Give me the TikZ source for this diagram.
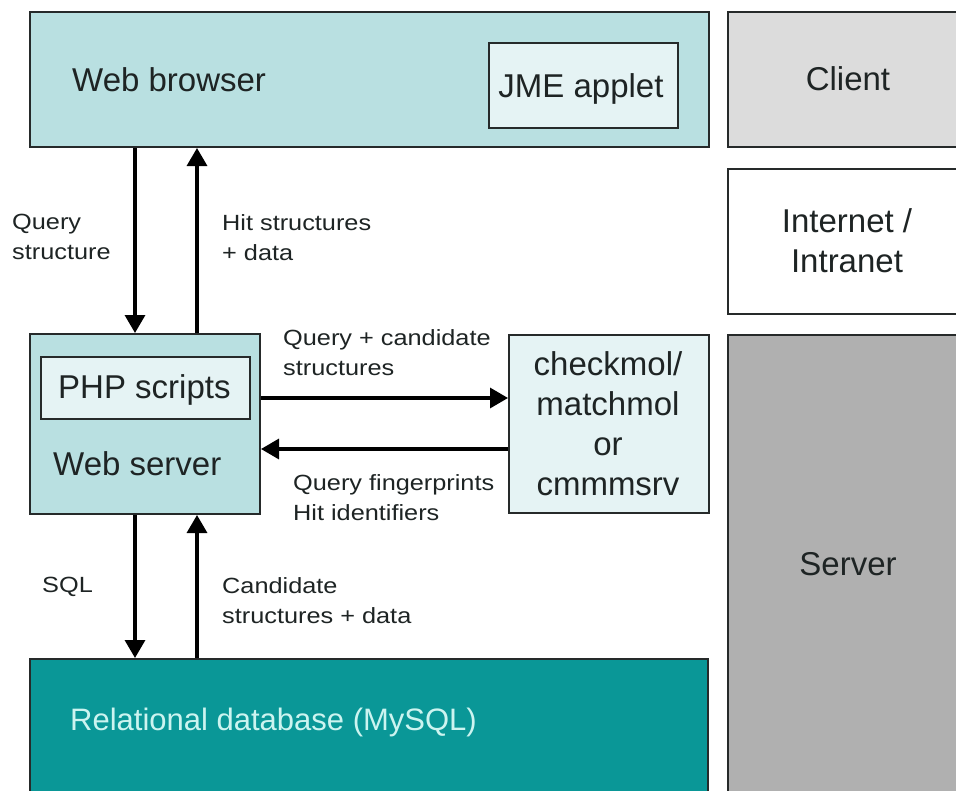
\documentclass[tikz,border=0pt]{standalone}
\usepackage{fontspec}
\setmainfont{Liberation Sans}
\newfontfamily\labfont[FakeStretch=1.15]{Liberation Sans}
\usetikzlibrary{arrows.meta}
\definecolor{wbfill}{HTML}{B9E0E1}
\definecolor{innerfill}{HTML}{E5F3F4}
\definecolor{clientfill}{HTML}{DCDCDC}
\definecolor{serverfill}{HTML}{B0B0B0}
\definecolor{dbfill}{HTML}{0A9797}
\definecolor{dbtext}{HTML}{CCF4F0}
\definecolor{textc}{HTML}{1E2424}
\definecolor{bordc}{HTML}{262A2A}
\begin{document}
\begin{tikzpicture}[x=1pt,y=-1pt,
  box/.style={draw=bordc, line width=2pt, rectangle, inner sep=0pt, anchor=north west},
  big/.style={font=\fontsize{33}{40}\selectfont, text=textc, inner sep=0pt},
  lab/.style={font=\labfont\fontsize{22}{30}\selectfont, text=textc, inner sep=0pt, align=left, anchor=north west},
  arr/.style={line width=3.3pt, draw=black, -{Triangle[length=18pt,width=20pt]}}]
\useasboundingbox (0,0) rectangle (956,790);
\clip (0,0) rectangle (956,790);
\fill[white] (0,0) rectangle (956,790);
% boxes
\node[box, fill=wbfill, minimum width=679pt, minimum height=135pt] (wb) at (29,11) {};
\node[box, fill=innerfill, minimum width=189pt, minimum height=85pt] (jme) at (488,42) {};
\node[box, fill=clientfill, minimum width=260pt, minimum height=135pt] (client) at (727,11) {};
\node[box, fill=white, minimum width=260pt, minimum height=145pt] (inet) at (727,168) {};
\node[box, fill=serverfill, minimum width=260pt, minimum height=480pt] (server) at (727,334) {};
\node[box, fill=wbfill, minimum width=230pt, minimum height=180pt] (ws) at (29,333) {};
\node[box, fill=innerfill, minimum width=209pt, minimum height=62pt] (php) at (40,356) {};
\node[box, fill=innerfill, minimum width=200pt, minimum height=178pt] (chk) at (508,334) {};
\node[box, fill=dbfill, minimum width=678pt, minimum height=150pt] (db) at (29,658) {};
% box texts
\node[big, anchor=base west] (twb) at (72,91) {Web browser};
\node[big, anchor=base] (tjme) at (581,97) {JME applet};
\node[big, anchor=base] (tclient) at (848,90) {Client};
\node[big, anchor=north, align=center] (tinet) at (847,208) {Internet /\\Intranet};
\node[big, anchor=base] (tserver) at (848,575) {Server};
\node[big, anchor=base west] (tphp) at (58,398) {PHP scripts};
\node[big, anchor=base west] (tws) at (53,475) {Web server};
\node[big, anchor=north, align=center] (tchk) at (608,351) {checkmol/\\matchmol\\or\\cmmmsrv};
\node[big, anchor=base west, font=\fontsize{31}{38}\selectfont, text=dbtext] (tdb) at (70,730) {Relational database (MySQL)};
% connector helpers
\coordinate (xa) at (135,0);
\coordinate (xb) at (197,0);
\coordinate (ya) at (0,398);
\coordinate (yb) at (0,449);
% arrows
\draw[arr] (wb.south -| xa) -- (ws.north -| xa);
\draw[arr] (ws.north -| xb) -- (wb.south -| xb);
\draw[arr] (ws.east |- ya) -- (chk.west |- ya);
\draw[arr] (chk.west |- yb) -- (ws.east |- yb);
\draw[arr] (ws.south -| xa) -- (db.north -| xa);
\draw[arr] (db.north -| xb) -- (ws.south -| xb);
% labels
\node[lab] (lqs) at (12,214) {Query\\structure};
\node[lab] (lhit) at (222,214) {Hit structures\\+ data};
\node[lab] (lqc) at (283,329) {Query + candidate\\structures};
\node[lab] (lqf) at (293,474) {Query fingerprints\\Hit identifiers};
\node[lab] (lsql) at (42,577) {SQL};
\node[lab] (lcand) at (222,577) {Candidate\\structures + data};
\end{tikzpicture}
\end{document}
